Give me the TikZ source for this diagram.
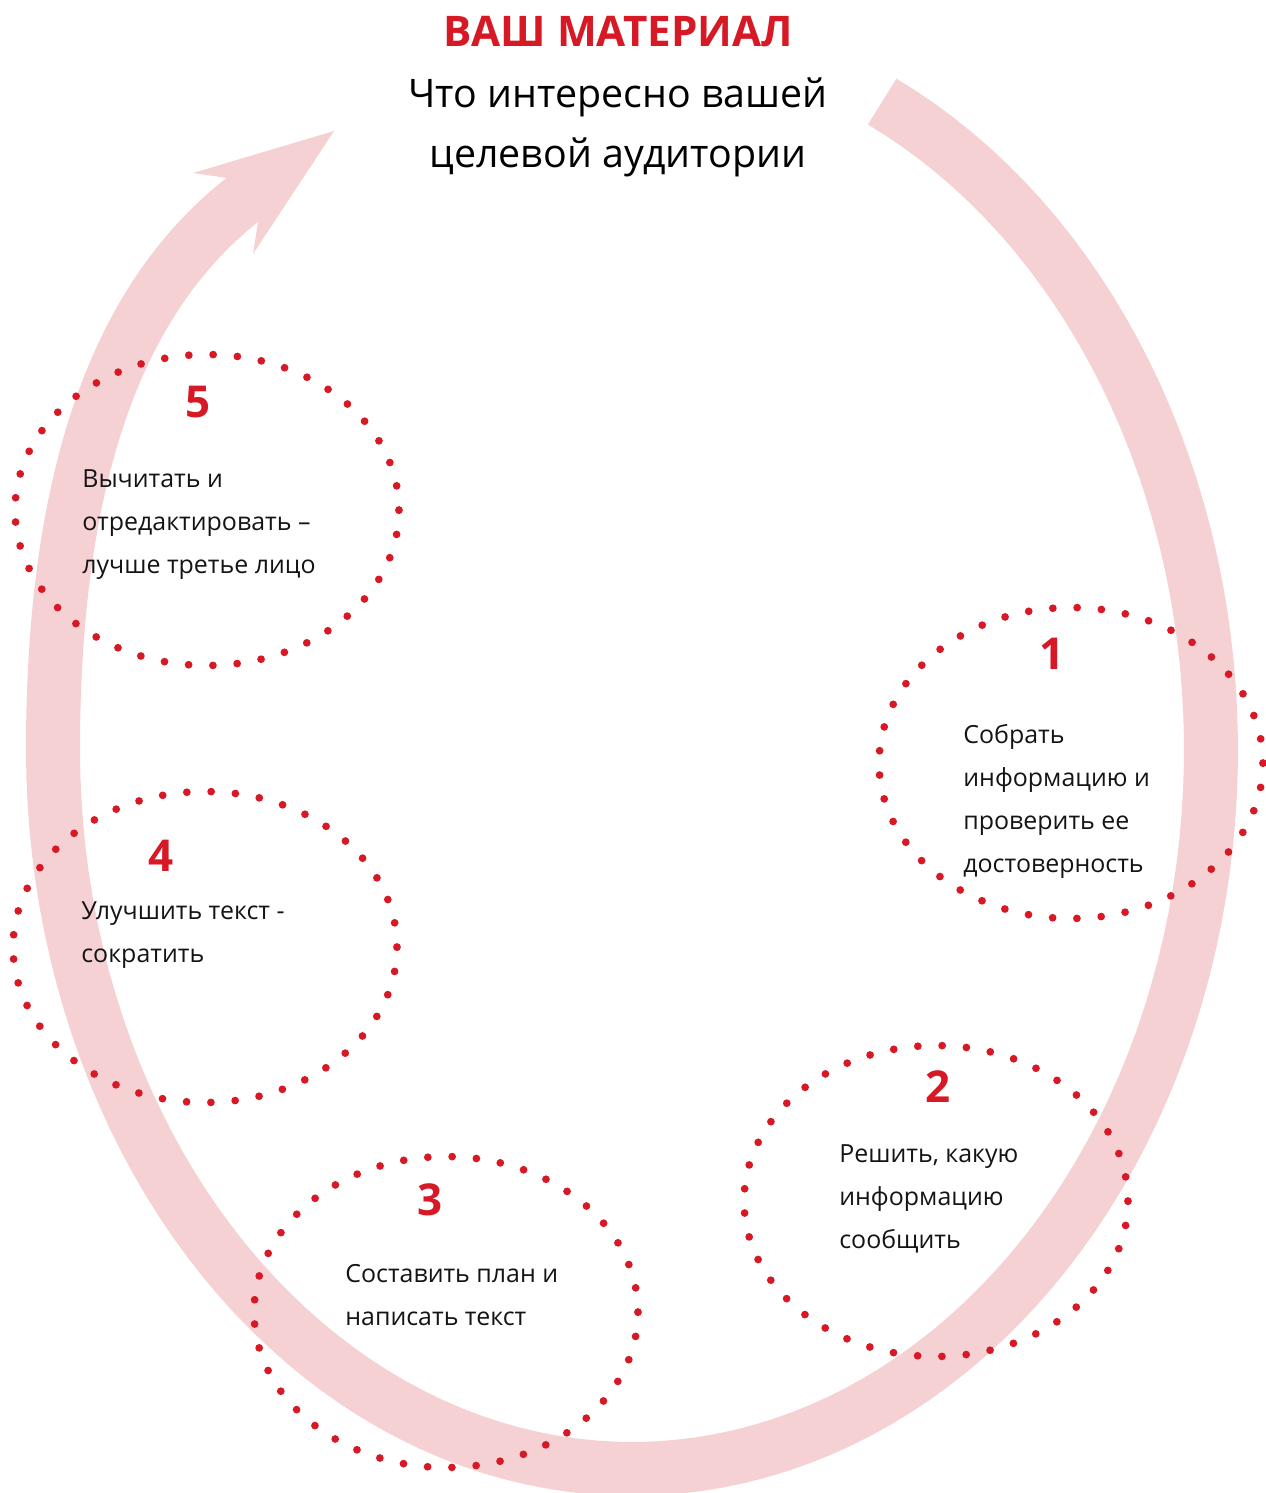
\documentclass[tikz,border=0pt]{standalone}
\usepackage{fontspec}
\setmainfont{Open Sans}
\usepackage{tikz}
\usetikzlibrary{shapes.geometric}
\definecolor{bandpink}{RGB}{246,209,211}
\definecolor{dotred}{RGB}{214,25,37}

\begin{document}
\begin{tikzpicture}[
  x=0.02cm, y=-0.02cm,
  band/.style={draw=bandpink, line width=1.08cm, line join=round},
  ring/.style={ellipse, minimum width=7.68cm, minimum height=6.22cm, inner sep=0pt,
               draw=dotred, line width=0.155cm, line cap=round,
               dash pattern=on 0pt off 0.4865cm},
  num/.style={font=\bfseries\fontsize{25}{25}\selectfont, text=dotred},
  txt/.style={anchor=base west, align=left, inner sep=0pt, text=black!92,
              font=\fontsize{14.2}{24.4}\selectfont},
]
  \useasboundingbox (0,0) rectangle (1266,1493);

  % the big loop with its arrow head
  \draw[band] plot[domain=-64.4:180, samples=120] ({632+579*cos(\x)}, {750+719*sin(\x)})
      .. controls (53,450) and (130,284) .. (250,194);
  \fill[bandpink] (334,131) -- (193,173) -- (227,178) -- (258,222) -- (253,254) -- cycle;

  % heading (base = last line)
  \node[font=\bfseries\fontsize{24}{24}\selectfont, text=dotred] (title) at (618,32) {ВАШ МАТЕРИАЛ};
  \node[anchor=base, align=center, inner sep=0pt, font=\fontsize{22.4}{34.6}\selectfont]
      (sub) at (618,168) {Что интересно вашей\\целевой аудитории};

  % dotted rings
  \node[ring] (r1) at (1071,763) {};
  \node[ring] (r2) at (936,1201) {};
  \node[ring] (r3) at (446,1312) {};
  \node[ring] (r4) at (205,947) {};
  \node[ring] (r5) at (207,510) {};

  \node[num] (n1) at (1052,654) {1};
  \node[num] (n2) at (938,1087) {2};
  \node[num] (n3) at (430,1200) {3};
  \node[num] (n4) at (161,856) {4};
  \node[num] (n5) at (198,402) {5};

  \node[txt] (t1) at (963,872) {Собрать\\информацию и\\проверить ее\\достоверность};
  \node[txt] (t2) at (839,1248) {Решить, какую\\информацию\\сообщить};
  \node[txt] (t3) at (345,1325) {Составить план и\\написать текст};
  \node[txt] (t4) at (81,962) {Улучшить текст -\\сократить};
  \node[txt] (t5) at (82,573) {Вычитать и\\отредактировать –\\лучше третье лицо};
\end{tikzpicture}
\end{document}
